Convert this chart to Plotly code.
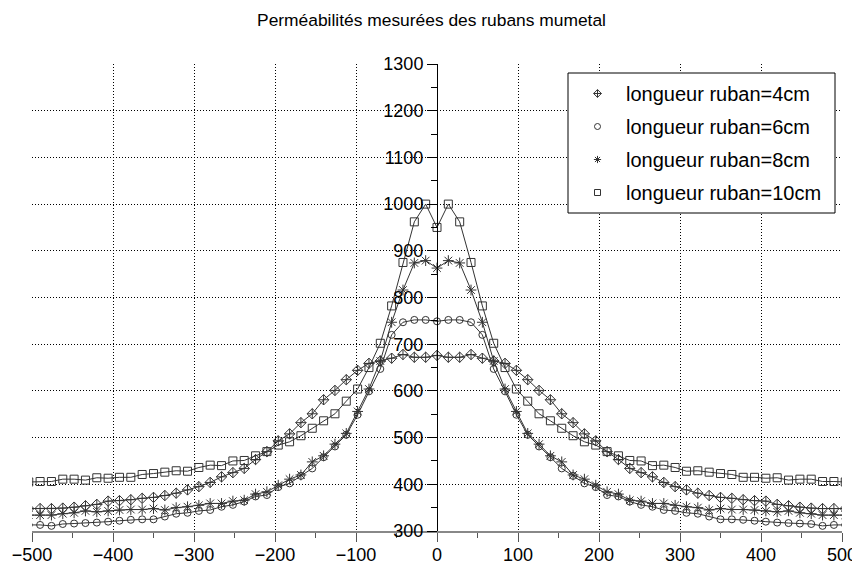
import plotly.graph_objects as go

# field positions (A/m)
x_vals = [-504, -490, -476, -462, -448, -434, -420, -406, -392, -378, -364, -350, -336, -322,
          -308, -294, -280, -266, -252, -238, -224, -210, -196, -182, -168, -154, -140, -126,
          -112, -98, -84, -70, -56, -42, -28, -14, 0, 14, 28, 42, 56, 70, 84, 98, 112, 126,
          140, 154, 168, 182, 196, 210, 224, 238, 252, 266, 280, 294, 308, 322, 336, 350,
          364, 378, 392, 406, 420, 434, 448, 462, 476, 490, 504]

mu_4cm = [348, 348, 348, 349, 351, 354, 357, 364, 365, 367, 370, 372, 376, 381,
          388, 395, 404, 416, 425, 434, 453, 470, 493, 508, 532, 551, 581, 601,
          624, 644, 659, 664, 670, 678, 672, 672, 676, 672, 672, 678, 670, 664, 659, 644,
          624, 601, 581, 551, 532, 508, 493, 470, 453, 434, 425, 416, 404, 395, 388, 381,
          376, 372, 370, 367, 365, 364, 357, 354, 351, 349, 348, 348, 348]

mu_6cm = [313, 313, 311, 315, 316, 317, 318, 320, 322, 324, 325, 325, 331, 337,
          339, 343, 345, 352, 356, 363, 374, 377, 394, 402, 418, 434, 458, 481,
          506, 549, 599, 647, 720, 747, 752, 752, 749, 752, 752, 747, 720, 647, 599, 549,
          506, 481, 458, 434, 418, 402, 394, 377, 374, 363, 356, 352, 345, 343, 339, 337,
          331, 325, 325, 324, 322, 320, 318, 317, 316, 315, 311, 313, 313]

mu_8cm = [334, 334, 334, 337, 339, 343, 341, 343, 345, 346, 346, 348, 345, 350,
          352, 355, 359, 359, 364, 366, 379, 384, 398, 411, 420, 448, 461, 486,
          509, 556, 604, 664, 747, 816, 874, 879, 863, 879, 874, 816, 747, 664, 604, 556,
          509, 486, 461, 448, 420, 411, 398, 384, 379, 366, 364, 359, 359, 355, 352, 350,
          345, 348, 346, 346, 345, 343, 341, 343, 339, 337, 334, 334, 334]

mu_10cm = [405, 406, 406, 411, 411, 409, 414, 413, 415, 415, 421, 423, 426, 429,
           428, 436, 441, 440, 450, 451, 461, 470, 484, 491, 504, 520, 536, 551,
           578, 604, 650, 702, 782, 875, 962, 1000, 950, 1000, 962, 875, 782, 702, 650, 604,
           578, 551, 536, 520, 504, 491, 484, 470, 461, 451, 450, 440, 441, 436, 428, 429,
           426, 423, 421, 415, 415, 413, 414, 409, 411, 411, 406, 406, 405]

series_names = ["longueur ruban=4cm", "longueur ruban=6cm", "longueur ruban=8cm", "longueur ruban=10cm"]
series_values = [mu_4cm, mu_6cm, mu_8cm, mu_10cm]
symbols = ["diamond-cross-open", "circle-open", "asterisk-open", "square-open"]
msizes = [8, 7, 9, 8]

FONT = "Liberation Sans, Arial, sans-serif"
DOTS = "1px,2px"

# page body has an 8px margin: figure is drawn at (8, 8) on screen
OFF = 8
W, H = 860 - OFF, 566 - OFF
PL, PR, PT, PB = 32 - OFF, 860 - 842, 64 - OFF, 566 - 531   # plot area: screen x 32..842, y 64..531
PW, PHt = W - PL - PR, H - PT - PB


def px_to_paper_x(sx):
    return (sx - OFF - PL) / PW


def px_to_paper_y(sy):
    return (H - PB - (sy - OFF)) / PHt


fig = go.Figure()
for name, vals, sym, ms in zip(series_names, series_values, symbols, msizes):
    fig.add_trace(go.Scatter(
        x=x_vals, y=vals, mode="lines+markers", showlegend=False,
        line=dict(color="#333333", width=1),
        marker=dict(symbol=sym, size=ms, color="#333333", line=dict(color="#333333", width=1)),
    ))
for i, (name, sym) in enumerate(zip(series_names, symbols)):
    fig.add_trace(go.Scatter(
        x=[None], y=[None], mode="markers", name=name, legendgroup=f"g{i}",
        marker=dict(symbol=sym, size=6, color="#333333", line=dict(color="#333333", width=1)),
    ))

# legend frame
fig.add_shape(type="rect", xref="paper", yref="paper",
              x0=px_to_paper_x(568), x1=px_to_paper_x(835),
              y0=px_to_paper_y(213), y1=px_to_paper_y(73),
              line=dict(color="black", width=1), fillcolor="white", layer="above")

fig.update_layout(
    width=W, height=H,
    margin=dict(l=PL, r=PR, t=PT, b=PB, autoexpand=False),
    paper_bgcolor="white", plot_bgcolor="white",
    font=dict(family=FONT, color="black"),
    title=dict(text="Perméabilités mesurées des rubans mumetal", x=(431.5 - OFF) / W, xref="container",
               y=1 - (20 - OFF) / H, yref="container", xanchor="center", yanchor="middle",
               font=dict(size=17.4, family=FONT, color="black")),
    legend=dict(x=px_to_paper_x(569), y=px_to_paper_y(74), xanchor="left", yanchor="top",
                bgcolor="rgba(0,0,0,0)", borderwidth=0,
                font=dict(size=20, family=FONT, color="black"),
                tracegroupgap=4, itemwidth=47),
    showlegend=True,
)
fig.update_xaxes(
    range=[-500, 500], tick0=0, dtick=100, automargin=False,
    showgrid=True, gridcolor="black", griddash=DOTS, gridwidth=1,
    ticks="outside", ticklen=9, tickcolor="#555555", tickwidth=1,
    showline=True, linecolor="#888888", linewidth=2, zeroline=False,
    minor=dict(dtick=50, ticks="outside", ticklen=5, tickcolor="#555555", showgrid=False),
    tickfont=dict(size=18, family=FONT, color="black"),
    ticklabelstandoff=-3,
)
fig.update_yaxes(
    range=[300, 1300], tick0=0, dtick=100, anchor="free", position=0.5, automargin=False,
    showgrid=True, gridcolor="black", griddash=DOTS, gridwidth=1,
    ticks="outside", ticklen=10, tickcolor="black", tickwidth=1,
    showline=True, linecolor="black", linewidth=1, zeroline=False,
    minor=dict(dtick=50, ticks="outside", ticklen=6, tickcolor="black", showgrid=False),
    tickfont=dict(size=18, family=FONT, color="black"),
)

fig.write_html("out.html")
